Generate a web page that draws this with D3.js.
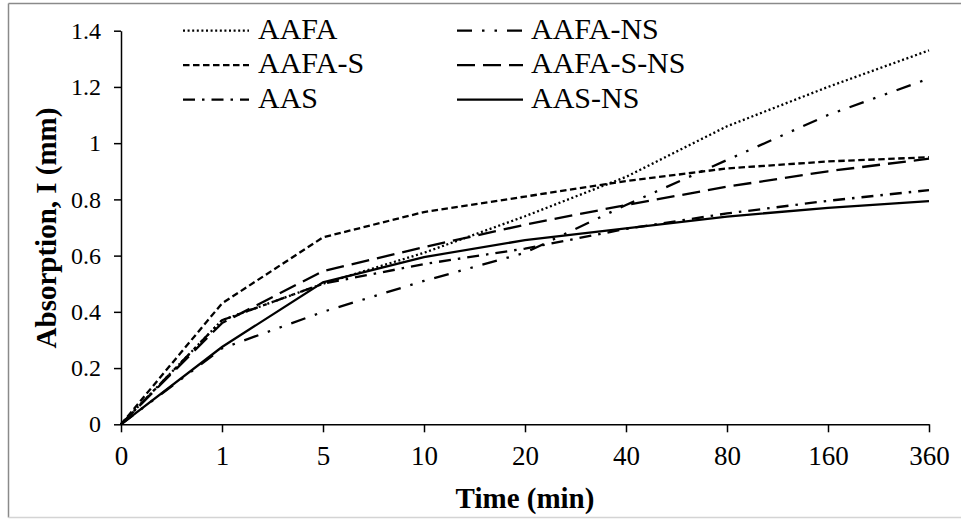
<!DOCTYPE html>
<html><head><meta charset="utf-8">
<script src="https://cdn.jsdelivr.net/npm/d3@7"></script>
<style>
html,body{margin:0;padding:0;background:#fff;}
svg{display:block;}
text{font-family:"Liberation Serif","Times New Roman",serif;fill:#000;}
</style></head>
<body>
<svg id="chart" width="961" height="519"></svg>
<script>
const categories = ["0","1","5","10","20","40","80","160","360"];
const seriesNames = ["AAFA","AAFA-NS","AAFA-S","AAFA-S-NS","AAS","AAS-NS"];
const AAFA      = [0, 0.37, 0.50, 0.61, 0.74, 0.88, 1.06, 1.20, 1.33];
const AAFA_NS   = [0, 0.27, 0.40, 0.51, 0.61, 0.78, 0.94, 1.10, 1.23];
const AAFA_S    = [0, 0.43, 0.665, 0.755, 0.81, 0.865, 0.91, 0.935, 0.95];
const AAFA_S_NS = [0, 0.36, 0.545, 0.63, 0.71, 0.78, 0.845, 0.90, 0.945];
const AAS       = [0, 0.37, 0.50, 0.57, 0.625, 0.695, 0.75, 0.795, 0.833];
const AAS_NS    = [0, 0.275, 0.505, 0.595, 0.655, 0.697, 0.739, 0.77, 0.794];
const yTicks = [0, 0.2, 0.4, 0.6, 0.8, 1, 1.2, 1.4];
const yTickLabels = ["0","0.2","0.4","0.6","0.8","1","1.2","1.4"];
const xTitle = "Time (min)";
const yTitle = "Absorption, I (mm)";

const seriesValues = [AAFA, AAFA_NS, AAFA_S, AAFA_S_NS, AAS, AAS_NS];
const dashes = ["2,2.6", "15,10,2.5,10,2.5,10", "6.5,3.5", "18,8", "12,7,2.5,7", null];

const svg = d3.select("#chart");
// outer frame
svg.append("line").attr("x1",8.5).attr("y1",3.5).attr("x2",961).attr("y2",3.5).attr("stroke","#8a8a8a").attr("stroke-width",1.5);
svg.append("line").attr("x1",8.5).attr("y1",3.5).attr("x2",8.5).attr("y2",517.5).attr("stroke","#8a8a8a").attr("stroke-width",1.5);
svg.append("line").attr("x1",8.5).attr("y1",517.5).attr("x2",961).attr("y2",517.5).attr("stroke","#d4d4d4").attr("stroke-width",1.5);

const x = d3.scalePoint().domain(categories).range([121, 929]);
const y = d3.scaleLinear().domain([0, 1.4]).range([424.3, 30.7]);

// axes
const yAxis = d3.axisLeft(y).tickValues(yTicks).tickSize(7).tickSizeOuter(0)
  .tickFormat((d,i)=>yTickLabels[i]).tickPadding(13);
const gy = svg.append("g").attr("transform","translate(121,0)").call(yAxis);
gy.selectAll("text").attr("font-size",24).attr("font-family","Liberation Serif");
gy.selectAll("line,path").attr("stroke","#000").attr("stroke-width",1.5);

const xAxis = d3.axisBottom(x).tickSize(8).tickSizeOuter(0).tickPadding(14);
const gx = svg.append("g").attr("transform","translate(0,424.3)").call(xAxis);
gx.selectAll("text").attr("font-size",27).attr("font-family","Liberation Serif");
gx.selectAll("line,path").attr("stroke","#000").attr("stroke-width",1.5);

// titles
svg.append("text").attr("x",525).attr("y",508).attr("text-anchor","middle")
  .attr("font-size",29).attr("font-weight","bold").text(xTitle);
svg.append("text").attr("transform","translate(56,228) rotate(-90)").attr("text-anchor","middle")
  .attr("font-size",29).attr("font-weight","bold").text(yTitle);

// lines
const line = d3.line().x((d,i)=>x(categories[i])).y(d=>y(d));
seriesValues.forEach((vals,k)=>{
  svg.append("path").datum(vals).attr("d",line).attr("fill","none")
    .attr("stroke","#000").attr("stroke-width",2.3)
    .attr("stroke-dasharray",dashes[k]);
});

// legend
const legCols = [{x1:183,x2:249,tx:258},{x1:457,x2:523,tx:531}];
const legRows = [30.7, 65.2, 99.7];
seriesNames.forEach((name,k)=>{
  const c = legCols[k%2], r = legRows[Math.floor(k/2)];
  svg.append("line").attr("x1",c.x1).attr("x2",c.x2).attr("y1",r).attr("y2",r)
    .attr("stroke","#000").attr("stroke-width",2.3).attr("stroke-dasharray",dashes[k]);
  svg.append("text").attr("x",c.tx).attr("y",r+8).attr("font-size",30).text(name);
});
</script>
</body></html>
